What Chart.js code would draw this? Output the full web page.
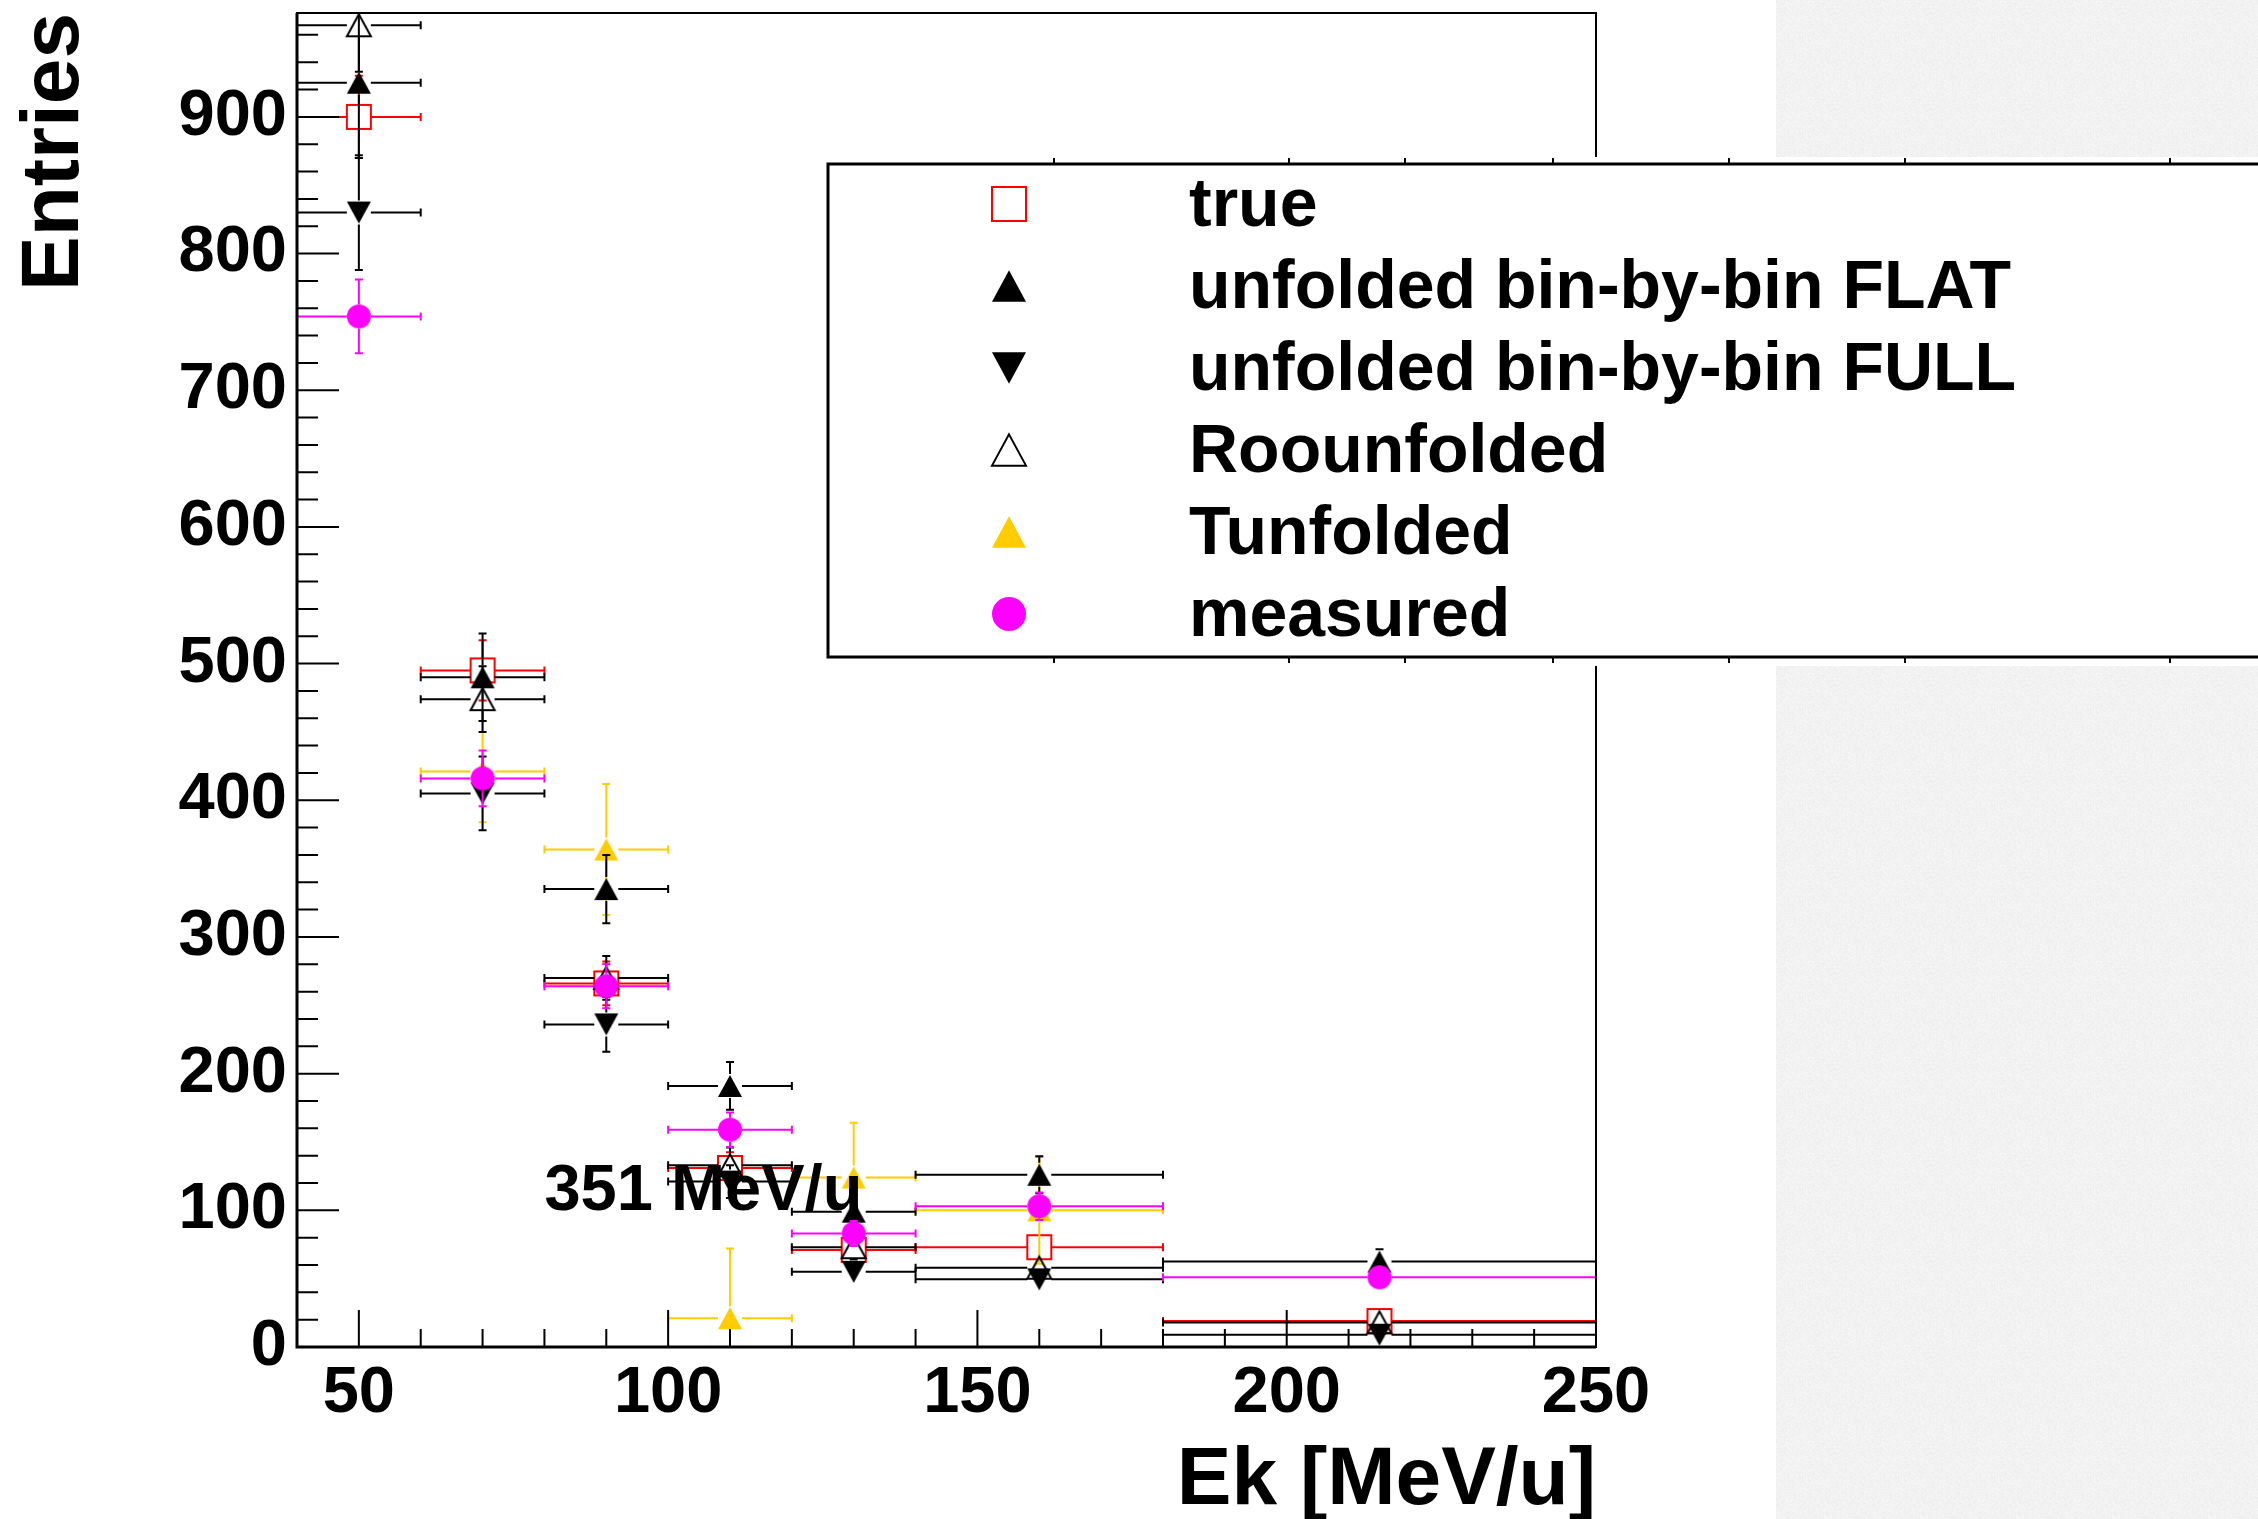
<!DOCTYPE html>
<html>
<head>
<meta charset="utf-8">
<title>Unfolding comparison 351 MeV/u</title>
<script src="https://cdn.jsdelivr.net/npm/chart.js@4.4.1/dist/chart.umd.min.js"></script>
<style>
  html, body { margin: 0; padding: 0; background: #fff; }
  #wrap { position: relative; width: 2258px; height: 1519px; overflow: hidden; }
  #paper { position: absolute; left: 1776px; top: 0; width: 482px; height: 1519px; background-color: #f1f1f1; }
  #c { position: absolute; left: 0; top: 0; }
</style>
</head>
<body>
<div id="wrap">
  <div id="paper"></div>
  <canvas id="c" width="2258" height="1519"></canvas>
</div>
<script>
// bins (Ek in MeV/u)
const binCenter = [50, 70, 90, 110, 130, 160, 215];
const binLow    = [40, 60, 80, 100, 120, 140, 180];
const binHigh   = [60, 80, 100, 120, 140, 180, 250];

// entries per bin and their errors
const trueVals = [900, 495, 266, 131, 71, 73, 19];
const trueErr  = [30, 22, 16, 11.5, 8.5, 8.5, 4.4];
const flatVals = [925, 490, 335, 191, 99, 126, 62.5];
const flatErr  = [55, 32, 25, 17.5, 12, 13.5, 9];
const fullVals = [830, 405, 236, 121, 55, 49.5, 9];
const fullErr  = [42, 27, 20, 12, 8, 7, 3];
const rooVals  = [967, 474, 270, 133, 73, 58, 18];
const rooErr   = [34, 24, 16, 13, 9, 8, 4];
const tunfVals = [null, 421, 364, 21, 124, 100, null];
const tunfErr  = [0, 37, 48, 51, 40, 39, 0];
const measVals = [754, 416, 264, 159, 83, 103, 51];
const measErr  = [27, 20.4, 16.2, 12.6, 9.1, 10.1, 7.1];

const seriesNames = ['true', 'unfolded bin-by-bin FLAT', 'unfolded bin-by-bin FULL',
                     'Roounfolded', 'Tunfolded', 'measured'];

// axis ticks
const xTicks = [50, 100, 150, 200, 250];
const yTicks = [0, 100, 200, 300, 400, 500, 600, 700, 800, 900];
const xMinorStep = 10;
const yMinorStep = 20;
const xRange = [40, 250];
const yRange = [0, 976];

const energyLabel = { text: '351 MeV/u', x: 80, y: 100 };

// ---- styles ----
const FONT = "'Liberation Sans', Arial, Helvetica, sans-serif";
const markerSize = 24;
const legendMarkerSize = 34;
const styles = [
  { shape: 'square', open: true,  color: '#ff0000', order: 5 },
  { shape: 'up',     open: false, color: '#000000', order: 3 },
  { shape: 'down',   open: false, color: '#000000', order: 2 },
  { shape: 'up',     open: true,  color: '#000000', order: 1 },
  { shape: 'up',     open: false, color: '#ffcc00', order: 4 },
  { shape: 'circle', open: false, color: '#ff00ff', order: 0 }
];

function makeMarker(st, size) {
  const lw = 2;
  const c = document.createElement('canvas');
  c.width = c.height = Math.ceil(size + lw * 2 + 2);
  const g = c.getContext('2d');
  const m = c.width / 2, h = size / 2, th = size * 0.46;
  g.lineWidth = lw;
  g.strokeStyle = st.color;
  g.fillStyle = st.color;
  g.beginPath();
  if (st.shape === 'square') {
    g.rect(m - h, m - h, size, size);
  } else if (st.shape === 'circle') {
    g.arc(m, m, h, 0, Math.PI * 2);
  } else if (st.shape === 'up') {
    g.moveTo(m, m - th); g.lineTo(m + h, m + th); g.lineTo(m - h, m + th); g.closePath();
  } else {
    g.moveTo(m, m + th); g.lineTo(m + h, m - th); g.lineTo(m - h, m - th); g.closePath();
  }
  if (st.open) g.stroke(); else g.fill();
  return c;
}

function points(vals, errs) {
  return binCenter.map((c, i) => vals[i] == null ? null :
    { x: c, y: vals[i], xlo: binLow[i], xhi: binHigh[i], err: errs[i] }).filter(Boolean);
}

const allVals = [[trueVals, trueErr], [flatVals, flatErr], [fullVals, fullErr],
                 [rooVals, rooErr], [tunfVals, tunfErr], [measVals, measErr]];

const datasets = allVals.map(([v, e], i) => ({
  label: seriesNames[i],
  data: points(v, e),
  borderColor: styles[i].color,
  backgroundColor: styles[i].color,
  pointStyle: makeMarker(styles[i], markerSize),
  pointRadius: 12,
  order: styles[i].order,
  clip: false
}));

const legendMarkers = styles.map(s => makeMarker(s, legendMarkerSize));

// error bars drawn just before each series' markers
const errorBars = {
  id: 'errorBars',
  beforeDatasetDraw(chart, args) {
    const ds = chart.data.datasets[args.index];
    const { ctx, chartArea: a, scales: { x, y } } = chart;
    const gap = markerSize / 2, cap = 4;
    ctx.save();
    ctx.beginPath();
    ctx.rect(a.left, a.top, a.right - a.left, a.bottom - a.top);
    ctx.clip();
    ctx.strokeStyle = ds.borderColor;
    ctx.lineWidth = 2;
    ds.data.forEach(p => {
      const px = x.getPixelForValue(p.x), py = y.getPixelForValue(p.y);
      const x0 = x.getPixelForValue(p.xlo), x1 = x.getPixelForValue(p.xhi);
      const yTop = y.getPixelForValue(p.y + p.err), yBot = y.getPixelForValue(p.y - p.err);
      ctx.beginPath();
      ctx.moveTo(x0, py); ctx.lineTo(px - gap, py);
      ctx.moveTo(px + gap, py); ctx.lineTo(x1, py);
      ctx.moveTo(x0, py - cap); ctx.lineTo(x0, py + cap);
      ctx.moveTo(x1, py - cap); ctx.lineTo(x1, py + cap);
      if (py - gap > yTop) {
        ctx.moveTo(px, py - gap); ctx.lineTo(px, yTop);
        ctx.moveTo(px - cap, yTop); ctx.lineTo(px + cap, yTop);
      }
      if (py + gap < yBot) {
        ctx.moveTo(px, py + gap); ctx.lineTo(px, yBot);
        ctx.moveTo(px - cap, yBot); ctx.lineTo(px + cap, yBot);
      }
      ctx.stroke();
    });
    ctx.restore();
  }
};

// frame with inward ticks, energy label and the legend box
const rootDecor = {
  id: 'rootDecor',
  afterDatasetsDraw(chart) {
    const { ctx, chartArea: a, scales: { x, y } } = chart;
    ctx.save();
    ctx.strokeStyle = '#000';
    ctx.lineWidth = 2;
    ctx.strokeRect(a.left, a.top, a.right - a.left, a.bottom - a.top);
    ctx.lineWidth = 3;
    ctx.beginPath();
    ctx.moveTo(a.left, a.top); ctx.lineTo(a.left, a.bottom); ctx.lineTo(a.right, a.bottom);
    ctx.stroke();

    ctx.lineWidth = 2;
    ctx.beginPath();
    for (let v = yRange[0]; v <= yRange[1]; v += yMinorStep) {
      const py = y.getPixelForValue(v);
      const len = yTicks.includes(v) ? 42 : 21;
      ctx.moveTo(a.left, py); ctx.lineTo(a.left + len, py);
    }
    for (let v = xRange[0]; v <= xRange[1]; v += xMinorStep) {
      const px = x.getPixelForValue(v);
      const len = xTicks.includes(v) ? 37 : 18;
      ctx.moveTo(px, a.bottom); ctx.lineTo(px, a.bottom - len);
    }
    ctx.stroke();

    ctx.fillStyle = '#000';
    ctx.font = 'bold 65px ' + FONT;
    ctx.textAlign = 'left';
    ctx.textBaseline = 'alphabetic';
    ctx.fillText(energyLabel.text, x.getPixelForValue(energyLabel.x), y.getPixelForValue(energyLabel.y));

    // legend
    const L = { left: 828, top: 164, bottom: 657, markerX: 1009, textX: 1189, row0: 204, step: 82 };
    const W = chart.width;
    ctx.fillStyle = '#fff';
    ctx.fillRect(L.left - 2, L.top - 7, W - L.left + 4, L.bottom - L.top + 16);
    ctx.lineWidth = 3;
    ctx.strokeRect(L.left, L.top, W - L.left + 10, L.bottom - L.top);
    ctx.lineWidth = 2;
    ctx.beginPath();
    [1054, 1289, 1405, 1553, 1729, 1905, 2170].forEach(tx => {
      ctx.moveTo(tx, L.top); ctx.lineTo(tx, L.top - 6);
      ctx.moveTo(tx, L.bottom); ctx.lineTo(tx, L.bottom + 6);
    });
    ctx.stroke();

    ctx.font = 'bold 68px ' + FONT;
    ctx.fillStyle = '#000';
    chart.data.datasets.forEach((ds, i) => {
      const ry = L.row0 + i * L.step;
      const m = legendMarkers[i];
      ctx.drawImage(m, L.markerX - m.width / 2, ry - m.height / 2);
      ctx.fillText(ds.label, L.textX, ry + 22);
    });
    ctx.restore();
  }
};

// light paper texture on the right strip
(function () {
  const t = document.createElement('canvas');
  t.width = t.height = 96;
  const g = t.getContext('2d');
  const img = g.createImageData(96, 96);
  let s = 12345;
  for (let i = 0; i < img.data.length; i += 4) {
    s = (s * 1103515245 + 12345) & 0x7fffffff;
    const v = 238 + (s % 9);
    img.data[i] = img.data[i + 1] = img.data[i + 2] = v;
    img.data[i + 3] = 255;
  }
  g.putImageData(img, 0, 0);
  document.getElementById('paper').style.backgroundImage = 'url(' + t.toDataURL() + ')';
})();

const tickFont = { family: FONT, weight: 'bold', size: 65 };
const titleFont = { family: FONT, weight: 'bold', size: 82, lineHeight: 0.86 };

new Chart(document.getElementById('c').getContext('2d'), {
  type: 'scatter',
  data: { datasets },
  options: {
    responsive: false,
    animation: false,
    devicePixelRatio: 1,
    events: [],
    layout: { padding: { top: 11, right: 662, left: 0, bottom: 0 } },
    plugins: { legend: { display: false }, tooltip: { enabled: false } },
    scales: {
      x: {
        type: 'linear',
        min: xRange[0], max: xRange[1],
        afterBuildTicks(s) { s.ticks = xTicks.map(v => ({ value: v })); },
        afterFit(s) { s.height = 172; s.paddingLeft = 0; s.paddingRight = 0; },
        grid: { display: false, drawTicks: false },
        border: { display: false },
        ticks: { color: '#000', font: tickFont, padding: 8, maxRotation: 0, autoSkip: false },
        title: { display: true, text: 'Ek [MeV/u]', align: 'end', color: '#000', font: titleFont, padding: { top: 0, bottom: 2 } }
      },
      y: {
        type: 'linear',
        min: yRange[0], max: yRange[1],
        afterBuildTicks(s) { s.ticks = yTicks.map(v => ({ value: v })); },
        afterFit(s) { s.width = 297; s.paddingTop = 0; s.paddingBottom = 0; },
        grid: { display: false, drawTicks: false },
        border: { display: false },
        ticks: { color: '#000', font: tickFont, padding: 10, autoSkip: false },
        title: { display: true, text: 'Entries', align: 'end', color: '#000', font: titleFont, padding: { top: 20, bottom: 0 } }
      }
    }
  },
  plugins: [errorBars, rootDecor]
});
</script>
</body>
</html>
